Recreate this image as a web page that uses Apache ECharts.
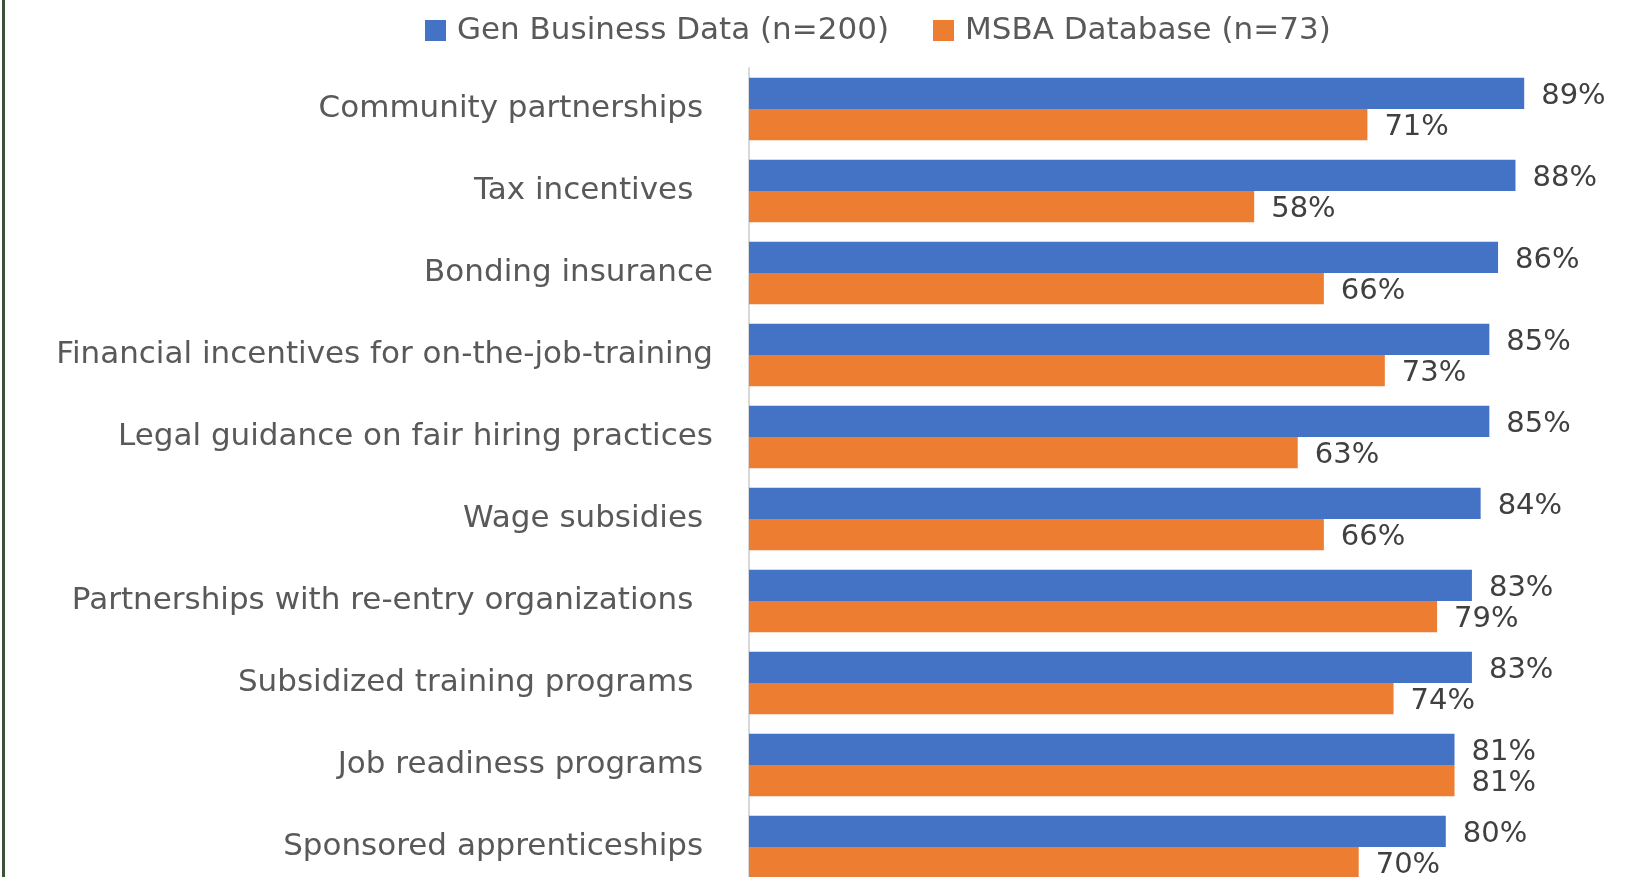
<!DOCTYPE html>
<html>
<head>
<meta charset="utf-8">
<script src="https://cdn.jsdelivr.net/npm/echarts@6/dist/echarts.min.js"></script>
<style>
  html, body { margin: 0; padding: 0; background: #fff; overflow: hidden; }
  #chart { width: 1629px; height: 900px; }
</style>
</head>
<body>
<div id="chart"></div>
<script>
// trailing spaces kept as in the source labels (they shift the right edge)
const categories = [
  "Community partnerships ",
  "Tax incentives  ",
  "Bonding insurance",
  "Financial incentives for on-the-job-training",
  "Legal guidance on fair hiring practices",
  "Wage subsidies ",
  "Partnerships with re-entry organizations  ",
  "Subsidized training programs  ",
  "Job readiness programs ",
  "Sponsored apprenticeships ",
];
const genBusiness = [89, 88, 86, 85, 85, 84, 83, 83, 81, 80];
const msbaDatabase = [71, 58, 66, 73, 63, 66, 79, 74, 81, 70];

const FONT = "'DejaVu Sans', 'Open Sans', sans-serif";
const chart = echarts.init(document.getElementById("chart"));

const labelStyle = {
  show: true,
  position: "right",
  distance: 17,
  offset: [0, 3],
  fontFamily: FONT,
  fontSize: 29,
  color: "#404040",
  formatter: (p) => p.value + "%",
};

chart.setOption({
  backgroundColor: "#fff",
  animation: false,
  textStyle: { fontFamily: FONT },
  graphic: [
    { type: "rect", left: 2, top: 0, shape: { width: 3, height: 900 }, style: { fill: "#3b5438" } },
  ],
  legend: {
    data: ["Gen Business Data (n=200)", "MSBA Database (n=73)"],
    top: 10,
    left: 420,
    icon: "rect",
    itemWidth: 21,
    itemHeight: 21,
    itemGap: 44,
    textStyle: { fontFamily: FONT, fontSize: 31, color: "#595959", padding: [0, 0, 0, 6] },
  },
  grid: { left: 749, right: 9, top: 68, height: 820, containLabel: false },
  xAxis: { type: "value", min: 0, max: 100, show: false },
  yAxis: {
    type: "category",
    data: categories,
    inverse: true,
    axisLine: { show: true, lineStyle: { color: "#d9d9d9", width: 2 } },
    axisTick: { show: false },
    axisLabel: { margin: 36, fontFamily: FONT, fontSize: 31, color: "#595959" },
  },
  series: [
    {
      name: "Gen Business Data (n=200)",
      type: "bar",
      data: genBusiness,
      barGap: "0%",
      barCategoryGap: "24%",
      itemStyle: { color: "#4472c4" },
      label: labelStyle,
    },
    {
      name: "MSBA Database (n=73)",
      type: "bar",
      data: msbaDatabase,
      barGap: "0%",
      barCategoryGap: "24%",
      itemStyle: { color: "#ed7d31" },
      label: labelStyle,
    },
  ],
});
</script>
</body>
</html>
